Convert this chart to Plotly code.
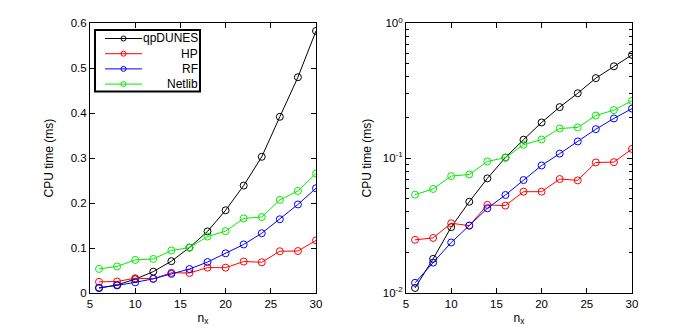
import plotly.graph_objects as go
from plotly.subplots import make_subplots

# state dimension
nx = [6, 8, 10, 12, 14, 16, 18, 20, 22, 24, 26, 28, 30]

# CPU times in ms
qpdunes = [0.0109, 0.0179, 0.0308, 0.0475, 0.0708, 0.101, 0.137, 0.184, 0.239, 0.303, 0.392, 0.480, 0.583]
hp = [0.0248, 0.0256, 0.0329, 0.0316, 0.0450, 0.0445, 0.0564, 0.0564, 0.0700, 0.0684, 0.0929, 0.0934, 0.117]
rf = [0.0119, 0.0168, 0.0237, 0.0316, 0.0425, 0.0533, 0.0688, 0.0883, 0.108, 0.133, 0.164, 0.197, 0.233]
netlib = [0.0536, 0.0591, 0.0736, 0.0757, 0.0945, 0.101, 0.1256, 0.1375, 0.166, 0.169, 0.207, 0.227, 0.266]

series = [
    ("qpDUNES", qpdunes, "black"),
    ("HP", hp, "#ff0000"),
    ("RF", rf, "#0000ff"),
    ("Netlib", netlib, "#00ee00"),
]

W, H = 698, 330
OFF = 8  # the page body has a default 8px margin
FONT = "Liberation Sans, Arial, sans-serif"


def px_x(v):
    return (v - OFF) / W


def px_y(v):
    return 1 - (v - OFF) / H


fig = make_subplots(rows=1, cols=2)

for col in (1, 2):
    for name, vals, color in series:
        fig.add_trace(
            go.Scatter(
                x=nx, y=vals, name=name,
                mode="lines+markers",
                line=dict(color=color, width=1),
                marker=dict(symbol="circle-open", size=7, color=color, line=dict(width=1)),
                showlegend=False,
            ),
            row=1, col=col,
        )

axis_style = dict(
    showline=True, linecolor="black", linewidth=1, mirror="ticks",
    ticks="inside", ticklen=5, tickcolor="black", showgrid=False, zeroline=False,
    automargin=False,
    tickfont=dict(size=11.5, color="black", family=FONT),
)
title_font = dict(size=12, family=FONT, color="black")

fig.update_xaxes(
    range=[5, 30], tickvals=[5, 10, 15, 20, 25, 30],
    title=dict(text="n<sub>x</sub>", font=title_font, standoff=4),
    **axis_style,
)
fig.update_xaxes(domain=[px_x(90), px_x(316)], row=1, col=1)
fig.update_xaxes(domain=[px_x(406), px_x(632)], row=1, col=2)

fig.update_yaxes(domain=[px_y(293), px_y(23.3)], **axis_style)
fig.update_yaxes(
    range=[0, 0.6], tickvals=[0, 0.1, 0.2, 0.3, 0.4, 0.5, 0.6],
    ticktext=["0", "0.1", "0.2", "0.3", "0.4", "0.5", "0.6"],
    title=dict(text="CPU time (ms)", font=title_font, standoff=14),
    row=1, col=1,
)
minor_vals = [m * 10 ** e for e in (-2, -1) for m in range(2, 10)]
fig.update_yaxes(
    type="log", range=[-2, 0], tickvals=[0.01, 0.1, 1],
    ticktext=["10<sup>-2</sup>", "10<sup>-1</sup>", "10<sup>0</sup>"],
    minor=dict(tickvals=minor_vals, ticks="inside", ticklen=3, tickcolor="black"),
    title=dict(text="CPU time (ms)", font=title_font, standoff=8),
    row=1, col=2,
)

# legend box drawn by hand so the text can be right aligned like the original
fig.add_shape(type="rect", xref="paper", yref="paper",
              x0=px_x(95), x1=px_x(200), y0=px_y(91.5), y1=px_y(30),
              line=dict(color="black", width=2), fillcolor="white", layer="above")
for i, (name, vals, color) in enumerate(series):
    ypix = 38.5 + 15.2 * i
    fig.add_shape(type="line", xref="paper", yref="paper",
                  x0=px_x(105), x1=px_x(142), y0=px_y(ypix), y1=px_y(ypix),
                  line=dict(color=color, width=1), layer="above")
    fig.add_shape(type="circle", xref="paper", yref="paper",
                  x0=px_x(121), x1=px_x(126), y0=px_y(ypix + 2.5), y1=px_y(ypix - 2.5),
                  line=dict(color=color, width=1), layer="above")
    fig.add_annotation(text=name, xref="paper", yref="paper",
                       x=px_x(199.5), y=px_y(ypix), xanchor="right", yanchor="middle",
                       showarrow=False, font=dict(size=12, family=FONT, color="black"))

fig.update_layout(
    width=W, height=H,
    margin=dict(l=0, r=0, t=0, b=0),
    plot_bgcolor="white", paper_bgcolor="white",
    font=dict(family=FONT, size=11.5, color="black"),
    showlegend=False,
)

fig.write_html("out.html")
